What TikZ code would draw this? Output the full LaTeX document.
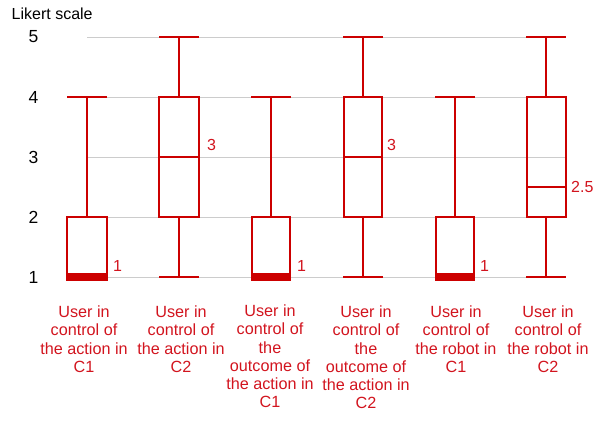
\documentclass[tikz,border=0pt]{standalone}
\usepackage{fontspec}
\setmainfont{Liberation Sans}
\usetikzlibrary{positioning}

\definecolor{boxred}{RGB}{204,0,0}
\definecolor{labelred}{RGB}{210,20,30}
\definecolor{gridgray}{RGB}{204,204,204}

\tikzset{
    gridline/.style={draw=gridgray, line width=0.9pt},
    whisker/.style={draw=boxred, line width=1.8pt},
    boxframe/.style={draw=boxred, line width=1.8pt},
    tickval/.style={font=\fontsize{17.5}{17.5}\selectfont, inner sep=0pt},
    medval/.style={text=labelred, font=\fontsize{16}{16}\selectfont, anchor=west, inner sep=0pt},
    catlabel/.style={text=labelred, font=\fontsize{16.2}{18.3}\selectfont, align=center, anchor=north, inner sep=0pt},
}

\begin{document}
\begin{tikzpicture}[x=1pt, y=1pt]
    \useasboundingbox (0,0) rectangle (598,424);

    \node[font=\fontsize{16}{16}\selectfont, anchor=west, inner sep=0pt] (title) at (11.5,410) {Likert scale};

    \begin{scope}[yshift=87pt, y=60pt]
        % grid and scale values
        \foreach \v in {1,...,5} {
            \draw[gridline] (87,\v) -- (565,\v);
            \node[tickval] (tick\v) at (33.5,\v) {\v};
        }

        % action in C1
        \draw[whisker] (87,2) -- (87,4) (67,4) -- (107,4);
        \draw[boxframe] (67,1) rectangle (107,2);
        \fill[boxred] (66.1,0.94) rectangle (107.9,1.06);
        \node[medval] (val1) at (113,1.18) {1};

        % action in C2
        \draw[whisker] (179,1) -- (179,2) (159,1) -- (199,1);
        \draw[whisker] (179,4) -- (179,5) (159,5) -- (199,5);
        \draw[boxframe] (159,2) rectangle (199,4) (159,3) -- (199,3);
        \node[medval] (val2) at (207,3.2) {3};

        % outcome of the action in C1
        \draw[whisker] (271,2) -- (271,4) (251,4) -- (291,4);
        \draw[boxframe] (252,1) rectangle (290,2);
        \fill[boxred] (251.1,0.94) rectangle (290.9,1.06);
        \node[medval] (val3) at (297,1.18) {1};

        % outcome of the action in C2
        \draw[whisker] (363,1) -- (363,2) (343,1) -- (383,1);
        \draw[whisker] (363,4) -- (363,5) (343,5) -- (383,5);
        \draw[boxframe] (344,2) rectangle (382,4) (344,3) -- (382,3);
        \node[medval] (val4) at (387,3.2) {3};

        % robot in C1
        \draw[whisker] (455,2) -- (455,4) (435,4) -- (475,4);
        \draw[boxframe] (436,1) rectangle (474,2);
        \fill[boxred] (435.1,0.94) rectangle (474.9,1.06);
        \node[medval] (val5) at (480,1.18) {1};

        % robot in C2
        \draw[whisker] (546,1) -- (546,2) (526,1) -- (566,1);
        \draw[whisker] (546,4) -- (546,5) (526,5) -- (566,5);
        \draw[boxframe] (527,2) rectangle (566,4) (527,2.5) -- (566,2.5);
        \node[medval] (val6) at (571,2.5) {2.5};
    \end{scope}

    % conditions
    \node[catlabel] (cat1) at (84,118.5) {User in\\control of\\the action in\\C1};
    \node[catlabel] (cat2) at (181,118.5) {User in\\control of\\the action in\\C2};
    \node[catlabel] (cat3) at (270,119.5) {User in\\control of\\the\\outcome of\\the action in\\C1};
    \node[catlabel] (cat4) at (366,118.5) {User in\\control of\\the\\outcome of\\the action in\\C2};
    \node[catlabel] (cat5) at (456,118.5) {User in\\control of\\the robot in\\C1};
    \node[catlabel] (cat6) at (548,118.5) {User in\\control of\\the robot in\\C2};
\end{tikzpicture}
\end{document}
